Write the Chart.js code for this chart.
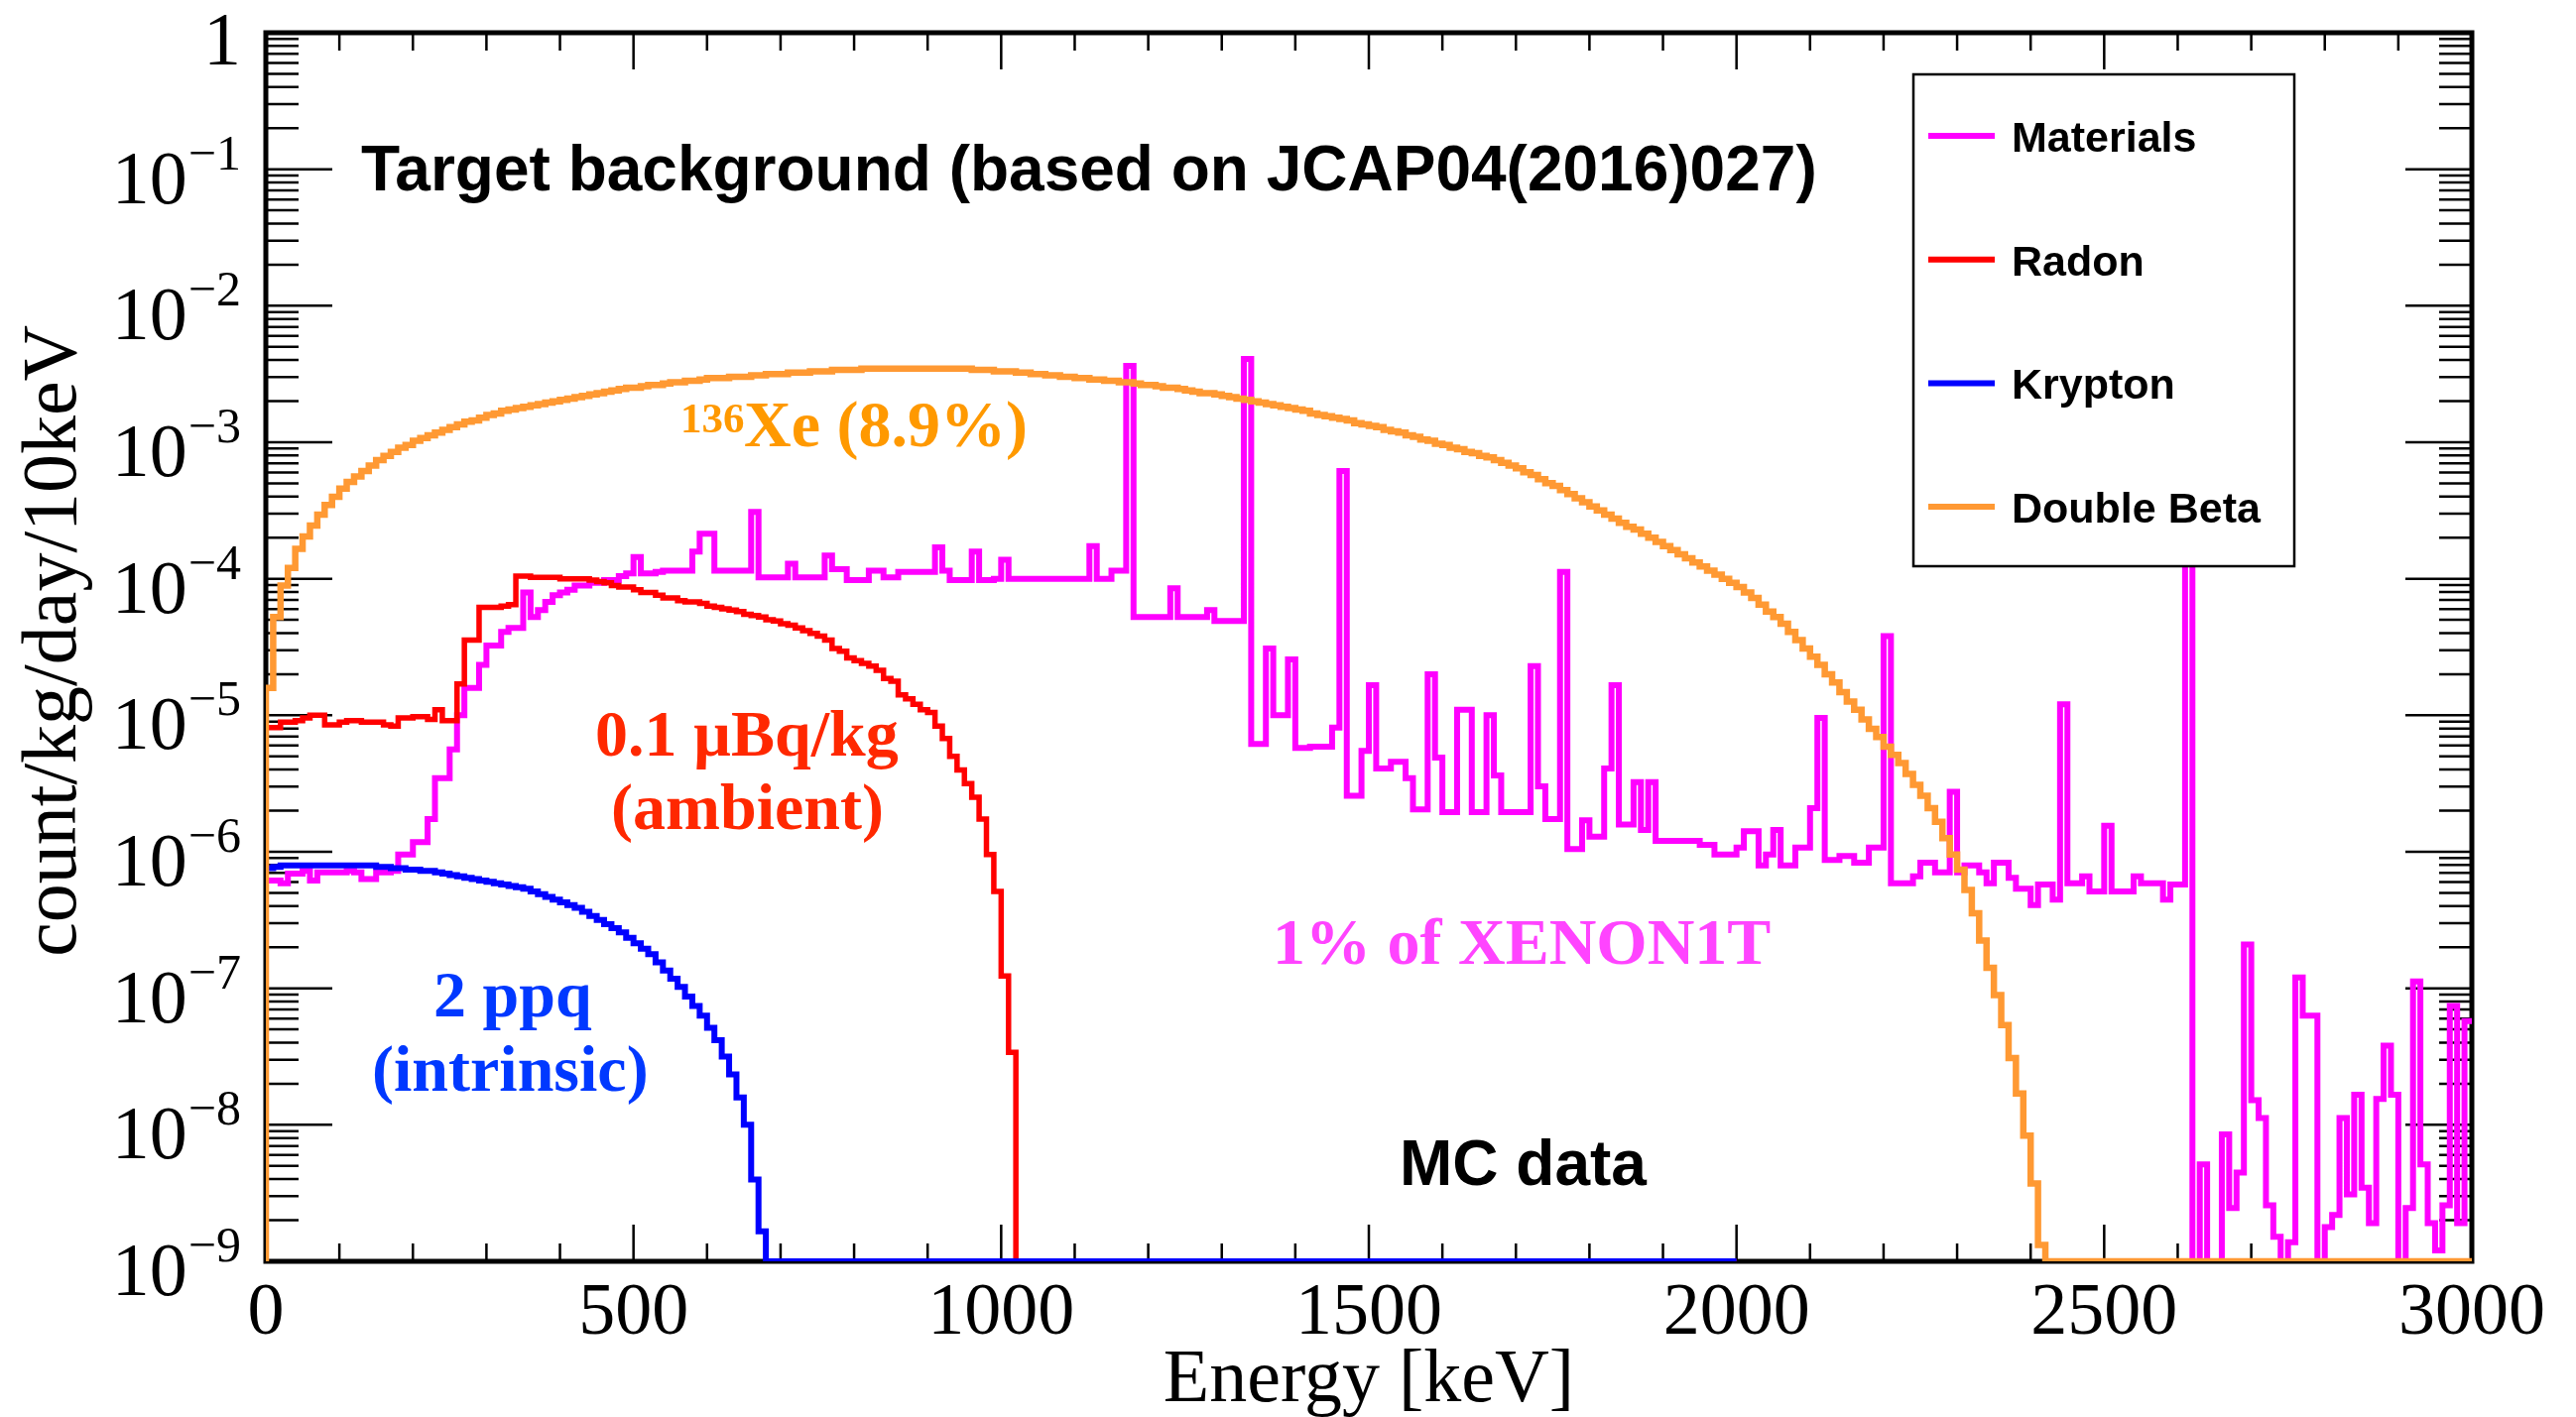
<!DOCTYPE html>
<html>
<head>
<meta charset="utf-8">
<script src="https://cdn.jsdelivr.net/npm/chart.js@4.4.1/dist/chart.umd.min.js"></script>
<style>
  html, body { margin: 0; padding: 0; background: #ffffff; }
  canvas { display: block; }
</style>
</head>
<body>
<canvas id="chart" width="2597" height="1429"></canvas>
<script>
// Histogram setup: 10 keV bins starting at 0 keV
const binWidth = 10;
const yFloor = 1e-9; // axis minimum, empty bins are drawn here

const seriesLabels = ['Materials', 'Radon', 'Krypton', 'Double Beta'];
const seriesColors = ['#ff00ff', '#ff0000', '#0000ff', '#ff9933'];
const seriesWidths = [6, 5.5, 6, 6.5];
const histEnds = [3000, 2000, 2000, 3000];

// log10(count/kg/day/10keV) per bin; null = empty bin
const materialsLog = [
  -6.21, -6.21, -6.23, -6.16, -6.16, -6.14, -6.21, -6.15, -6.15, -6.15,
  -6.15, -6.14, -6.15, -6.20, -6.20, -6.15, -6.15, -6.14, -6.02, -6.02,
  -5.93, -5.93, -5.76, -5.46, -5.46, -5.25, -5.00, -4.80, -4.80, -4.63,
  -4.49, -4.49, -4.39, -4.36, -4.36, -4.10, -4.28, -4.23, -4.17, -4.12,
  -4.10, -4.08, -4.05, -4.05, -4.03, -4.03, -4.01, -4.01, -3.98, -3.96,
  -3.84, -3.96, -3.96, -3.95, -3.94, -3.94, -3.94, -3.94, -3.80, -3.67,
  -3.67, -3.94, -3.94, -3.94, -3.94, -3.94, -3.51, -3.99, -3.99, -3.99,
  -3.99, -3.89, -3.99, -3.99, -3.99, -3.99, -3.83, -3.93, -3.93, -4.01,
  -4.01, -4.01, -3.94, -3.94, -3.99, -3.99, -3.95, -3.95, -3.95, -3.95,
  -3.95, -3.77, -3.94, -4.01, -4.01, -4.01, -3.80, -4.01, -4.01, -4.00,
  -3.86, -4.00, -4.00, -4.00, -4.00, -4.00, -4.00, -4.00, -4.00, -4.00,
  -4.00, -4.00, -3.76, -4.00, -4.00, -3.94, -3.94, -2.44, -4.28, -4.28,
  -4.28, -4.28, -4.28, -4.07, -4.28, -4.28, -4.28, -4.28, -4.23, -4.31,
  -4.31, -4.31, -4.31, -2.39, -5.21, -5.21, -4.51, -5.00, -5.00, -4.59,
  -5.24, -5.24, -5.23, -5.23, -5.23, -5.09, -3.21, -5.59, -5.59, -5.26,
  -4.78, -5.39, -5.39, -5.34, -5.34, -5.46, -5.69, -5.69, -4.70, -5.31,
  -5.71, -5.71, -4.96, -4.96, -5.71, -5.71, -5.00, -5.44, -5.71, -5.71,
  -5.71, -5.71, -4.64, -5.52, -5.76, -5.76, -3.95, -5.98, -5.98, -5.77,
  -5.89, -5.89, -5.39, -4.78, -5.80, -5.80, -5.49, -5.84, -5.49, -5.92,
  -5.92, -5.92, -5.92, -5.92, -5.92, -5.95, -5.95, -6.02, -6.02, -6.02,
  -5.97, -5.85, -5.85, -6.10, -6.02, -5.84, -6.10, -6.10, -5.97, -5.97,
  -5.68, -5.02, -6.06, -6.06, -6.03, -6.03, -6.08, -6.08, -5.97, -5.97,
  -4.42, -6.23, -6.23, -6.23, -6.18, -6.08, -6.08, -6.15, -6.15, -5.56,
  -6.15, -6.10, -6.10, -6.15, -6.23, -6.08, -6.08, -6.19, -6.27, -6.27,
  -6.39, -6.24, -6.24, -6.35, -4.92, -6.23, -6.23, -6.18, -6.29, -6.29,
  -5.81, -6.29, -6.29, -6.29, -6.18, -6.23, -6.23, -6.23, -6.35, -6.24,
  -6.24, -3.50, null, -8.29, null, null, -8.07, -8.61, -8.35, -6.68,
  -7.82, -7.95, -8.59, -8.82, null, -8.86, -6.92, -7.20, -7.20, null,
  -8.75, -8.66, -7.95, -8.51, -7.78, -8.46, -8.72, -7.81, -7.42, -7.78,
  null, -8.61, -6.95, -8.29, -8.72, -8.92, -8.59, -7.13, -8.72, -7.24
];

const radonLog = [
  -5.09, -5.09, -5.05, -5.05, -5.04, -5.02, -5.00, -5.00, -5.07, -5.07,
  -5.05, -5.04, -5.04, -5.05, -5.05, -5.05, -5.07, -5.08, -5.02, -5.02,
  -5.01, -5.01, -5.03, -4.96, -5.04, -5.04, -4.77, -4.45, -4.45, -4.21,
  -4.21, -4.21, -4.20, -4.19, -3.98, -3.98, -3.99, -3.99, -3.99, -3.99,
  -4.00, -4.00, -4.00, -4.00, -4.01, -4.02, -4.03, -4.05, -4.06, -4.06,
  -4.08, -4.10, -4.10, -4.12, -4.14, -4.14, -4.16, -4.17, -4.17, -4.18,
  -4.20, -4.21, -4.22, -4.23, -4.24, -4.26, -4.27, -4.28, -4.30, -4.31,
  -4.33, -4.34, -4.36, -4.38, -4.40, -4.42, -4.45, -4.51, -4.53, -4.58,
  -4.60, -4.62, -4.64, -4.67, -4.73, -4.75, -4.85, -4.88, -4.92, -4.96,
  -4.98, -5.08, -5.17, -5.30, -5.40, -5.50, -5.60, -5.76, -6.02, -6.29,
  -6.91, -7.47
];

const kryptonLog = [
  -6.12, -6.11, -6.10, -6.10, -6.10, -6.10, -6.10, -6.10, -6.10, -6.10,
  -6.10, -6.10, -6.10, -6.10, -6.10, -6.11, -6.11, -6.12, -6.12, -6.13,
  -6.13, -6.14, -6.14, -6.15, -6.16, -6.17, -6.18, -6.19, -6.20, -6.21,
  -6.22, -6.23, -6.24, -6.25, -6.26, -6.27, -6.29, -6.31, -6.33, -6.35,
  -6.37, -6.39, -6.41, -6.44, -6.47, -6.50, -6.53, -6.56, -6.59, -6.63,
  -6.67, -6.71, -6.75, -6.81, -6.87, -6.93, -6.99, -7.06, -7.13, -7.20,
  -7.29, -7.38, -7.50, -7.63, -7.80, -8.00, -8.40, -8.78
];

const doubleBetaLog = [
  -4.80, -4.28, -4.05, -3.92, -3.78, -3.69, -3.61, -3.53, -3.46, -3.40,
  -3.34, -3.29, -3.25, -3.21, -3.17, -3.13, -3.10, -3.07, -3.04, -3.02,
  -2.99, -2.97, -2.95, -2.93, -2.91, -2.89, -2.87, -2.85, -2.84, -2.82,
  -2.80, -2.79, -2.77, -2.76, -2.75, -2.74, -2.73, -2.72, -2.71, -2.70,
  -2.69, -2.68, -2.67, -2.66, -2.65, -2.64, -2.63, -2.62, -2.61, -2.60,
  -2.60, -2.59, -2.58, -2.58, -2.57, -2.56, -2.56, -2.55, -2.55, -2.54,
  -2.53, -2.53, -2.53, -2.52, -2.52, -2.52, -2.51, -2.51, -2.50, -2.50,
  -2.50, -2.49, -2.49, -2.49, -2.48, -2.48, -2.48, -2.47, -2.47, -2.47,
  -2.47, -2.46, -2.46, -2.46, -2.46, -2.46, -2.46, -2.46, -2.46, -2.46,
  -2.46, -2.46, -2.46, -2.46, -2.46, -2.46, -2.47, -2.47, -2.47, -2.48,
  -2.48, -2.48, -2.49, -2.49, -2.50, -2.50, -2.51, -2.51, -2.52, -2.52,
  -2.53, -2.53, -2.54, -2.54, -2.55, -2.55, -2.56, -2.56, -2.57, -2.58,
  -2.58, -2.59, -2.60, -2.60, -2.61, -2.62, -2.63, -2.64, -2.64, -2.65,
  -2.66, -2.67, -2.68, -2.69, -2.70, -2.71, -2.72, -2.73, -2.74, -2.75,
  -2.76, -2.77, -2.79, -2.80, -2.81, -2.82, -2.83, -2.84, -2.86, -2.87,
  -2.88, -2.89, -2.91, -2.92, -2.93, -2.95, -2.96, -2.98, -2.99, -3.01,
  -3.02, -3.04, -3.05, -3.07, -3.08, -3.10, -3.11, -3.13, -3.15, -3.17,
  -3.19, -3.22, -3.24, -3.27, -3.30, -3.32, -3.35, -3.38, -3.41, -3.44,
  -3.47, -3.50, -3.53, -3.56, -3.59, -3.62, -3.64, -3.67, -3.70, -3.73,
  -3.76, -3.79, -3.82, -3.85, -3.88, -3.91, -3.94, -3.97, -4.00, -4.03,
  -4.06, -4.10, -4.14, -4.19, -4.24, -4.28, -4.33, -4.39, -4.45, -4.51,
  -4.57, -4.63, -4.70, -4.76, -4.83, -4.90, -4.96, -5.03, -5.10, -5.16,
  -5.23, -5.29, -5.35, -5.43, -5.51, -5.59, -5.68, -5.78, -5.90, -6.02,
  -6.13, -6.28, -6.45, -6.65, -6.85, -7.05, -7.27, -7.51, -7.77, -8.08,
  -8.43, -8.88
];

const seriesLogs = [materialsLog, radonLog, kryptonLog, doubleBetaLog];

// axis labels
const xTickValues = [0, 500, 1000, 1500, 2000, 2500, 3000];
const yTickExponents = [0, -1, -2, -3, -4, -5, -6, -7, -8, -9];
const xTitle = 'Energy [keV]';
const yTitle = 'count/kg/day/10keV';

// turn bin contents into step outline points (ROOT "HIST" look)
function histPoints(logs, end) {
  const pts = [{ x: 0, y: yFloor }];
  let last = yFloor;
  for (let i = 0; i < end / binWidth; i++) {
    const v = logs[i];
    last = (v === null || v === undefined) ? yFloor : Math.pow(10, v);
    pts.push({ x: i * binWidth, y: last });
  }
  pts.push({ x: end, y: last });
  return pts;
}

const datasets = seriesLabels.map((label, i) => ({
  label: label,
  data: histPoints(seriesLogs[i], histEnds[i]),
  borderColor: seriesColors[i],
  borderWidth: seriesWidths[i],
  stepped: true,
  pointRadius: 0,
  fill: false,
  tension: 0,
  order: seriesLabels.length - i   // later series drawn on top
}));

const serif = "'Liberation Serif', 'Times New Roman', serif";
const sans = "'Liberation Sans', Arial, sans-serif";

// frame, ticks, labels, legend and annotations drawn ROOT style
const rootStyle = {
  id: 'rootStyle',
  beforeDatasetsDraw(chart) {
    const { ctx, chartArea: a, scales: { x, y } } = chart;
    ctx.save();
    ctx.strokeStyle = '#000';
    ctx.lineWidth = 2.5;
    ctx.beginPath();
    for (let e = 0; e <= 3000; e += 100) {
      const px = x.getPixelForValue(e);
      const len = e % 500 === 0 ? 37 : 18;
      ctx.moveTo(px, a.bottom); ctx.lineTo(px, a.bottom - len);
      ctx.moveTo(px, a.top); ctx.lineTo(px, a.top + len);
    }
    for (let d = -9; d <= 0; d++) {
      for (let m = 1; m <= 9; m++) {
        if (d === 0 && m > 1) break;
        const py = y.getPixelForValue(m * Math.pow(10, d));
        const len = m === 1 ? 67 : 33;
        ctx.moveTo(a.left, py); ctx.lineTo(a.left + len, py);
        ctx.moveTo(a.right, py); ctx.lineTo(a.right - len, py);
      }
    }
    ctx.stroke();
    ctx.lineWidth = 5;
    ctx.strokeRect(a.left, a.top, a.right - a.left, a.bottom - a.top);

    // tick labels
    ctx.fillStyle = '#000';
    ctx.textBaseline = 'alphabetic';
    ctx.textAlign = 'center';
    ctx.font = '74px ' + serif;
    xTickValues.forEach(v => ctx.fillText(String(v), x.getPixelForValue(v), 1345));

    ctx.textAlign = 'right';
    const labelRight = 243;
    yTickExponents.forEach(d => {
      const py = y.getPixelForValue(Math.pow(10, d));
      if (d === 0) {
        ctx.font = '76px ' + serif;
        ctx.fillText('1', labelRight, py + 32);
        return;
      }
      const exp = '\u2212' + Math.abs(d);
      ctx.font = '50px ' + serif;
      const w = ctx.measureText(exp).width;
      ctx.fillText(exp, labelRight, py);
      ctx.font = '76px ' + serif;
      ctx.fillText('10', labelRight - w - 1, py + 34);
    });

    // axis titles
    ctx.textAlign = 'center';
    ctx.font = '76px ' + serif;
    ctx.fillText(xTitle, (a.left + a.right) / 2, 1413);
    ctx.save();
    ctx.translate(76, 328);
    ctx.rotate(-Math.PI / 2);
    ctx.textAlign = 'right';
    ctx.font = '78px ' + serif;
    ctx.fillText(yTitle, 0, 0);
    ctx.restore();
    ctx.restore();
  },
  afterDatasetsDraw(chart) {
    const { ctx } = chart;
    ctx.save();
    ctx.textBaseline = 'alphabetic';
    ctx.textAlign = 'left';

    ctx.fillStyle = '#000';
    ctx.font = 'bold 64px ' + sans;
    ctx.fillText('Target background (based on JCAP04(2016)027)', 364, 192);
    ctx.font = 'bold 64px ' + sans;
    ctx.fillText('MC data', 1411, 1195);

    ctx.fillStyle = '#ff9900';
    ctx.font = 'bold 43px ' + serif;
    ctx.fillText('136', 686, 436);
    ctx.font = 'bold 66px ' + serif;
    ctx.fillText('Xe (8.9%)', 750, 450);

    ctx.fillStyle = '#ff2800';
    ctx.fillText('0.1 \u00b5Bq/kg', 600, 762);
    ctx.fillText('(ambient)', 616, 836);

    ctx.fillStyle = '#0038ff';
    ctx.fillText('2 ppq', 437, 1025);
    ctx.fillText('(intrinsic)', 375, 1100);

    ctx.fillStyle = '#ff44ff';
    ctx.fillText('1% of XENON1T', 1283, 972);

    // legend box
    const box = { left: 1929, top: 75, right: 2313, bottom: 571 };
    ctx.fillStyle = '#fff';
    ctx.fillRect(box.left, box.top, box.right - box.left, box.bottom - box.top);
    ctx.strokeStyle = '#000';
    ctx.lineWidth = 2.5;
    ctx.strokeRect(box.left, box.top, box.right - box.left, box.bottom - box.top);
    ctx.font = 'bold 43px ' + sans;
    chart.data.datasets.forEach((ds, i) => {
      const cy = 137 + i * 124.7;
      ctx.strokeStyle = ds.borderColor;
      ctx.lineWidth = 6;
      ctx.beginPath();
      ctx.moveTo(1944, cy);
      ctx.lineTo(2011, cy);
      ctx.stroke();
      ctx.fillStyle = '#000';
      ctx.fillText(ds.label, 2028, cy + 16);
    });
    ctx.restore();
  }
};

new Chart(document.getElementById('chart'), {
  type: 'line',
  data: { datasets: datasets },
  options: {
    responsive: false,
    devicePixelRatio: 1,
    animation: false,
    events: [],
    layout: { padding: { left: 268, right: 105, top: 33, bottom: 157 } },
    plugins: {
      legend: { display: false },
      tooltip: { enabled: false },
      title: { display: false }
    },
    scales: {
      x: { type: 'linear', min: 0, max: 3000, display: false },
      y: { type: 'logarithmic', min: yFloor, max: 1, display: false }
    }
  },
  plugins: [rootStyle]
});
</script>
</body>
</html>
